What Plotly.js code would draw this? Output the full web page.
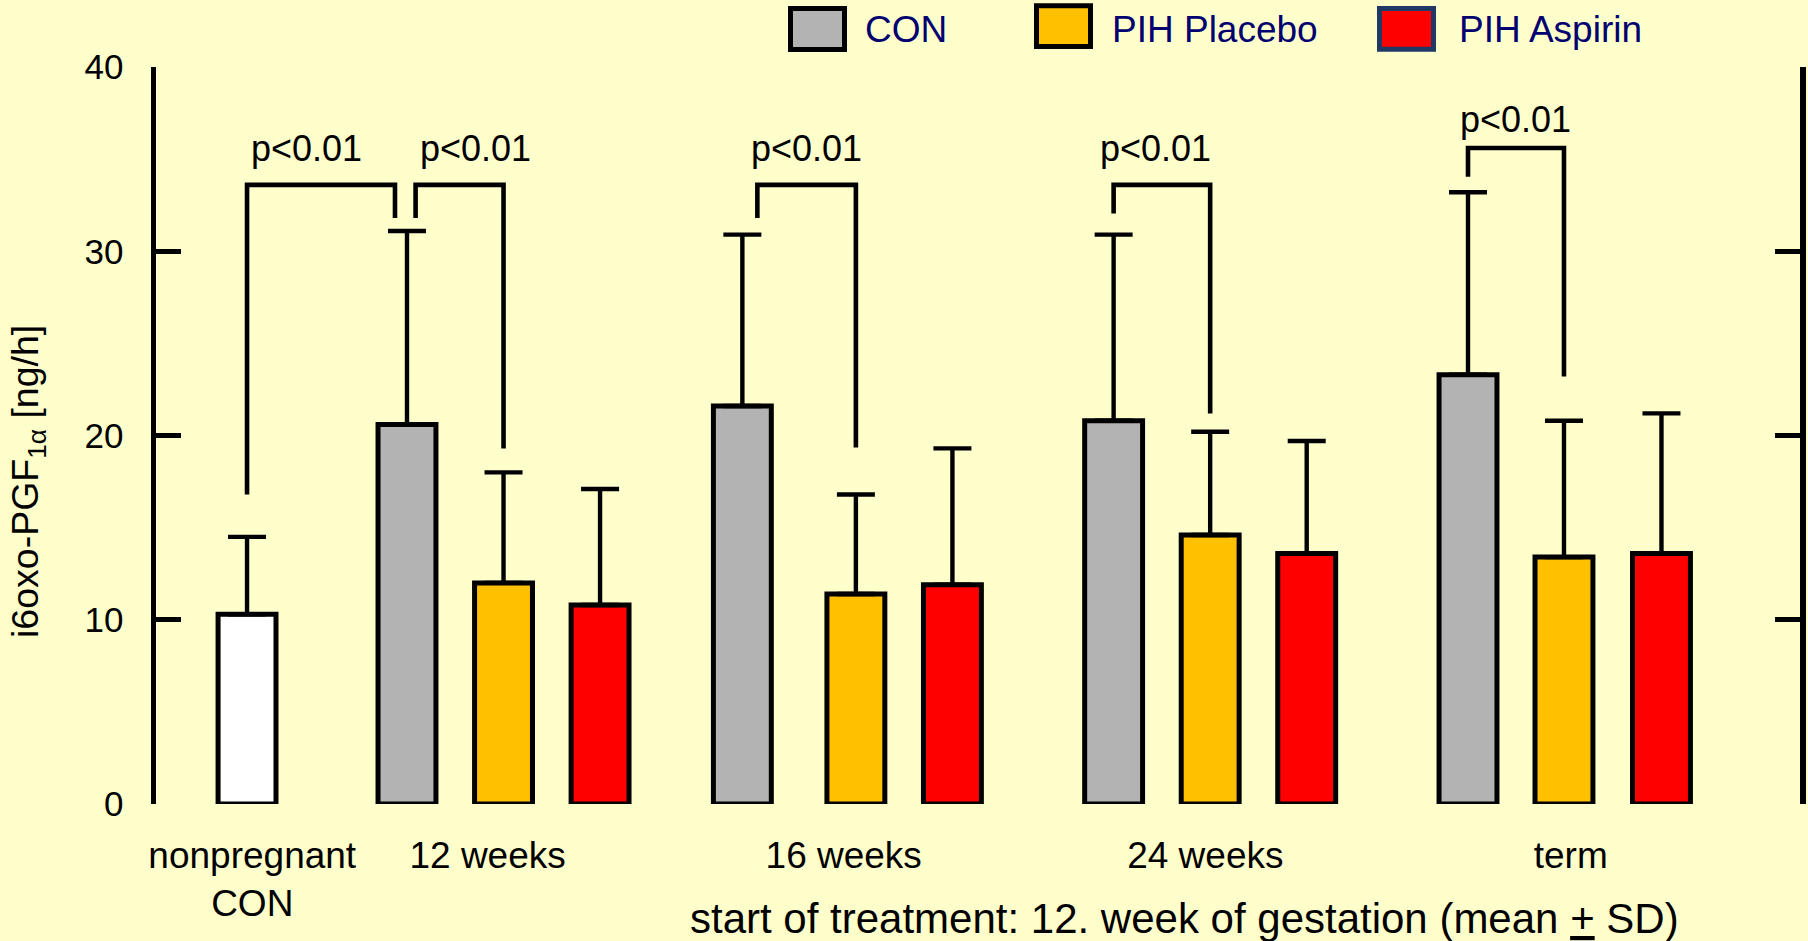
<!DOCTYPE html>
<html>
<head>
<meta charset="utf-8">
<script src="https://cdn.plot.ly/plotly-3.0.1.min.js"></script>
<style>
  html, body { margin: 0; padding: 0; background: #FFFFCC; }
  #chart { width: 1808px; height: 941px; }
</style>
</head>
<body>
<div id="chart"></div>
<script>
// ---- data: i6oxo-PGF1a excretion, mean and SD (ng/h) ----
const groupLabels = ['nonpregnant<br>CON', '12 weeks', '16 weeks', '24 weeks', 'term'];
const seriesNames = ['CON', 'PIH Placebo', 'PIH Aspirin'];

const nonpregMean = [10.3];
const nonpregSD   = [4.2];

const conMean     = [20.6, 21.6, 20.8, 23.3];
const conSD       = [10.5, 9.3, 10.1, 9.9];
const placeboMean = [12.0, 11.4, 14.6, 13.4];
const placeboSD   = [6.0, 5.4, 5.6, 7.4];
const aspirinMean = [10.8, 11.9, 13.6, 13.6];
const aspirinSD   = [6.3, 7.4, 6.1, 7.6];

// significance brackets: heights of the left foot, the bar and the right foot
const sigText      = 'p&lt;0.01';
const sigLeftFoot  = [16.8, 31.8, 31.8, 32.05, 34.05];
const sigTop       = [33.6, 33.6, 33.6, 33.6, 35.6];
const sigRightFoot = [31.8, 19.3, 19.35, 21.2, 23.2];

const yTicks = [0, 10, 20, 30, 40];

// ---- layout geometry ----
const W = 1808, H = 941;
const M = { l: 156, r: 8, t: 67, b: 137 };
const plotW = W - M.l - M.r, plotH = H - M.t - M.b;
const X_RANGE = [0, 17.03];
const PX = (X_RANGE[1] - X_RANGE[0]) / plotW;   // data units per pixel

// group centres on the x axis and the slot offsets of the three pregnant series
const groupCenter = [0.943, 3.60, 7.25, 10.92, 14.585];
const slotOffset = [
  null,
  [-1.0, 0, 1.0],
  [-1.176, 0, 1.0],
  [-1.0, 0, 1.0],
  [-0.994, 0, 1.01]
];
const labelNudge = [0.054, -0.165, -0.126, -0.05, 0.07];
const BAR_W = 0.6;

const slotX = (s) => [1, 2, 3, 4].map(g => groupCenter[g] + slotOffset[g][s]);

const colors = { nonpreg: '#FFFFFF', con: '#B3B3B3', placebo: '#FFC000', aspirin: '#FF0000' };
const FONT = 'Liberation Sans, Arial, sans-serif';

function barTrace(name, x, mean, sd, fill) {
  return {
    type: 'bar', name: name, x: x, y: mean, width: BAR_W,
    marker: { color: fill, line: { color: '#000000', width: 5 } },
    error_y: {
      type: 'data', symmetric: false, array: sd, arrayminus: sd.map(() => 0),
      color: '#000000', thickness: 4.4, width: 19
    },
    cliponaxis: false, showlegend: false, hoverinfo: 'x+y'
  };
}

const traces = [
  barTrace('nonpregnant CON', [groupCenter[0]], nonpregMean, nonpregSD, colors.nonpreg),
  barTrace(seriesNames[0], slotX(0), conMean, conSD, colors.con),
  barTrace(seriesNames[1], slotX(1), placeboMean, placeboSD, colors.placebo),
  barTrace(seriesNames[2], slotX(2), aspirinMean, aspirinSD, colors.aspirin)
];

// bracket end points: [x of left end, x of right end] with small pixel nudges
const conX = slotX(0), plaX = slotX(1);
const bracketEnds = [
  [groupCenter[0], conX[0] - 12 * PX],
  [conX[0] + 8.6 * PX, plaX[0]],
  [conX[1] + 15 * PX, plaX[1]],
  [conX[2], plaX[2]],
  [conX[3], plaX[3]]
];
const labelShiftPx = [-15, 16, 0, -6, 0];
const labelLiftPx  = [36, 36, 36, 36, 29];

const shapes = [];
const annotations = [];

bracketEnds.forEach((e, i) => {
  shapes.push({
    type: 'path', xref: 'x', yref: 'y',
    path: `M ${e[0]},${sigLeftFoot[i]} V ${sigTop[i]} H ${e[1]} V ${sigRightFoot[i]}`,
    line: { color: '#000000', width: 4.6 }
  });
  annotations.push({
    xref: 'x', yref: 'y', x: (e[0] + e[1]) / 2, y: sigTop[i],
    xanchor: 'center', yanchor: 'middle', xshift: labelShiftPx[i], yshift: labelLiftPx[i],
    text: sigText, showarrow: false, font: { family: FONT, size: 36, color: '#000000' }
  });
});

// legend drawn as framed swatches with labels above the plot
const px2x = (px) => (px - M.l) / plotW;
const py2y = (py) => (M.t + plotH - py) / plotH;
const legendBoxes = [
  { box: [788, 847, 6, 52], fill: colors.con, edge: '#000000', textX: 863 },
  { box: [1034, 1093, 3.3, 49], fill: colors.placebo, edge: '#000000', textX: 1110 },
  { box: [1377, 1436, 6, 51.7], fill: colors.aspirin, edge: '#1F3864', textX: 1457 }
];
legendBoxes.forEach((lb, i) => {
  const b = lb.box, inset = 2.5;
  shapes.push({
    type: 'rect', xref: 'paper', yref: 'paper',
    x0: px2x(b[0] + inset), x1: px2x(b[1] - inset),
    y0: py2y(b[3] - inset), y1: py2y(b[2] + inset),
    fillcolor: lb.fill, line: { color: lb.edge, width: 5 }, layer: 'above'
  });
  annotations.push({
    xref: 'paper', yref: 'paper', x: px2x(lb.textX), y: py2y(29),
    xanchor: 'left', yanchor: 'middle', showarrow: false,
    text: seriesNames[i], font: { family: FONT, size: 37, color: '#000070' }
  });
});

// y axis title
annotations.push({
  xref: 'paper', yref: 'paper', x: px2x(28), y: py2y(482),
  xanchor: 'center', yanchor: 'middle', textangle: -90, showarrow: false,
  text: 'i6oxo-PGF<sub>1α</sub> [ng/h]', font: { family: FONT, size: 37.5, color: '#000000' }
});

// x axis caption
annotations.push({
  xref: 'paper', yref: 'paper', x: px2x(1184), y: py2y(918),
  xanchor: 'center', yanchor: 'middle', showarrow: false,
  text: 'start of treatment: 12. week of gestation (mean <u>+</u> SD)',
  font: { family: FONT, size: 42, color: '#000000' }
});

const layout = {
  width: W, height: H,
  margin: M,
  paper_bgcolor: '#FFFFCC', plot_bgcolor: '#FFFFCC',
  showlegend: false,
  barmode: 'overlay',
  font: { family: FONT, color: '#000000' },
  xaxis: {
    range: X_RANGE, showline: false, showgrid: false, zeroline: false,
    ticks: '', tickmode: 'array',
    tickvals: groupCenter.map((c, i) => c + labelNudge[i]),
    ticktext: groupLabels,
    tickfont: { family: FONT, size: 37, color: '#000000' },
    ticklabelstandoff: 26
  },
  yaxis: {
    range: [0, 40], showline: true, linecolor: '#000000', linewidth: 5.5,
    mirror: 'ticks', ticks: 'inside', ticklen: 25, tickwidth: 5.3, tickcolor: '#000000',
    tickmode: 'array', tickvals: yTicks, showgrid: false, zeroline: false,
    tickfont: { family: FONT, size: 35, color: '#000000' },
    ticklabelstandoff: 20
  },
  shapes: shapes,
  annotations: annotations
};

Plotly.newPlot('chart', traces, layout, { displayModeBar: false, staticPlot: true });
</script>
</body>
</html>
